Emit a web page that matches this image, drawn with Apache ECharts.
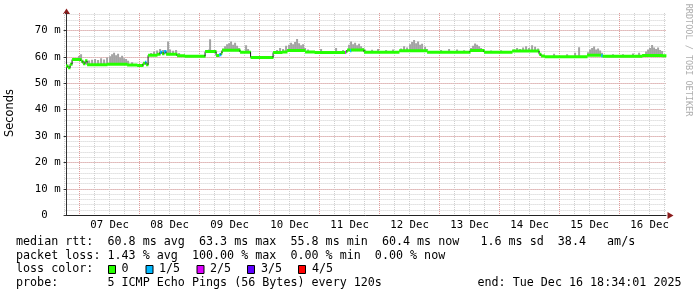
<!DOCTYPE html>
<html><head><meta charset="utf-8">
<script src="https://cdn.jsdelivr.net/npm/echarts@6/dist/echarts.min.js"></script>
<style>html,body{margin:0;padding:0;background:#fff}#c{width:697px;height:297px}</style>
</head><body><div id="c"></div>
<script>
// time unit: hours since 06 Dec 2025 00:00
const startHour = 18.567;
const endHour = 258.567;
const dayLabels = ['07 Dec','08 Dec','09 Dec','10 Dec','11 Dec','12 Dec','13 Dec','14 Dec','15 Dec','16 Dec'];

// median rtt (ms), step segments starting at medHours
const medHours = [18.57,19.4,20.2,21.0,24.6,25.4,26.2,27.0,35.0,43.0,47.0,49.4,50.2,50.6,51.4,55.0,56.2,57.0,57.8,58.6,63.0,66.0,74.2,78.6,79.8,80.6,81.0,88.2,92.4,101.4,105.0,107.0,114.2,118.0,130.2,130.6,131.0,132.2,132.6,137.8,151.8,163.0,180.2,185.8,197.0,207.8,208.6,210.0,227.0,232.6,233.2,249.0,257.0];
const medValues = [56.6,55.9,57.2,59.0,58.4,57.4,58.5,57.0,57.2,56.9,56.7,57.6,58.0,57.0,60.6,61.0,61.8,61.2,62.0,61.0,60.4,60.2,62.0,60.5,60.8,61.5,62.5,61.8,59.8,61.7,61.9,62.4,61.9,61.7,61.8,62.0,62.6,62.3,62.6,61.8,62.3,61.8,62.4,61.8,62.2,61.0,60.3,60.1,60.6,60.4,60.2,60.5,60.4];
const medLoss = [0,0,0,0,0,0,0,0,0,0,0,0,1,0,0,0,1,0,1,0,0,0,0,0,1,0,0,0,0,0,0,0,0,0,2,0,0,1,0,0,0,0,0,0,0,0,0,0,0,1,0,0,0];

// smoke: highest ping (ms) per sampled slot
const smokeHours = [22.2,23.4,24.2,27.4,28.6,29.8,31.0,32.2,33.4,34.6,35.8,36.6,37.4,38.2,39.0,39.8,40.6,41.4,42.2,43.0,44.6,
 52.2,53.4,54.6,55.8,57.0,58.2,59.0,59.8,61.0,62.2,63.4,
 75.4,75.8,
 81.0,81.8,82.6,83.4,84.2,85.0,85.8,86.6,87.4,90.2,91.0,
 102.6,103.8,105.0,106.2,107.4,108.2,109.0,109.8,110.6,111.4,112.2,113.0,113.8,115.0,
 120.2,126.2,129.0,
 131.4,132.2,133.0,133.8,134.6,135.4,136.2,137.0,137.8,
 140.6,143.0,146.2,149.0,
 152.2,153.4,154.6,155.8,156.6,157.4,158.2,159.0,159.8,160.6,161.8,162.6,
 168.2,171.4,174.6,177.4,
 180.2,181.0,181.8,182.6,183.4,184.2,185.0,188.2,192.2,
 197.4,198.6,199.8,201.0,202.2,203.4,204.6,205.8,207.0,
 213.4,218.6,221.8,223.4,
 227.0,227.8,228.6,229.4,230.2,231.0,231.8,232.6,
 236.97,240.97,244.97,247.4,
 250.2,251.0,251.8,252.6,253.4,254.2,255.0,255.8,256.6];
const smokeTops = [59.6,60.3,61.0,58.6,58.9,59.2,58.8,59.5,59.0,59.8,60.2,61.0,61.6,60.6,61.2,59.8,60.4,59.5,59.2,58.5,58.0,
 61.5,62.0,62.4,63.0,62.6,62.2,65.8,62.8,62.3,62.6,61.5,
 62.8,66.7,
 63.2,64.0,64.8,65.2,65.8,64.6,65.4,64.2,63.4,64.4,63.0,
 62.6,63.4,63.0,64.2,64.6,65.4,64.8,65.6,66.8,65.2,64.4,64.8,63.4,62.8,
 63.0,63.4,62.6,
 64.6,65.8,64.8,65.4,64.4,65.0,64.0,63.4,62.8,
 62.7,63.0,62.6,62.8,
 63.2,64.0,63.6,64.8,65.6,66.4,65.2,65.8,64.6,65.0,63.8,63.0,
 62.6,63.0,62.8,62.5,
 63.4,64.2,65.1,64.6,64.0,63.4,62.6,62.4,62.5,
 62.8,63.4,63.0,63.6,64.0,63.4,64.4,63.8,63.2,
 61.2,61.0,61.6,63.7,
 61.8,62.8,63.4,63.9,62.8,63.2,62.4,61.6,
 61.0,61.0,61.3,61.6,
 62.0,62.8,63.4,64.5,63.6,63.0,63.6,62.6,62.2];

const lossLabels = ['0','1/5','2/5','3/5','4/5'];
const lossColors = ['#26ff00','#00b8ff','#dd00ff','#5e00ff','#ff0000'];
const statLines = [
  'median rtt:  60.8 ms avg  63.3 ms max  55.8 ms min  60.4 ms now   1.6 ms sd  38.4   am/s',
  'packet loss: 1.43 % avg  100.00 % max  0.00 % min  0.00 % now',
  'loss color:',
  'probe:       5 ICMP Echo Pings (56 Bytes) every 120s'
];
const endText = 'end: Tue Dec 16 18:34:01 2025';

function medianAt(t){
  let v = medValues[0];
  for (let i=0;i<medHours.length;i++){ if (medHours[i] <= t) v = medValues[i]; else break; }
  return v;
}

const medData = medHours.map((t,i)=>[t, medValues[i], medLoss[i],
  i+1<medHours.length ? medHours[i+1] : endHour,
  i+1<medHours.length ? medValues[i+1] : medValues[i]]);
const smokeData = smokeHours.map((t,i)=>[t, smokeTops[i], medianAt(t)]);

const MONO = '"DejaVu Sans Mono", monospace';
const minorC = '#cfcfcf', majorC = '#e09a9a';

const chart = echarts.init(document.getElementById('c'), null, {renderer:'canvas'});

const graphics = [];
const lineY = [242, 255.5, 269.3, 283];
statLines.forEach((s,i)=>{
  graphics.push({type:'text', style:{text:s, x:16, y:lineY[i], font:'11.7px '+MONO, fill:'#000', textVerticalAlign:'middle', verticalAlign:'middle'}});
});
graphics.push({type:'text', style:{text:endText, x:477.5, y:lineY[3], font:'11.7px '+MONO, fill:'#000', textVerticalAlign:'middle', verticalAlign:'middle'}});
const boxX = [108.5, 146, 197, 247.5, 298.5];
const lblX = [121.5, 159, 210, 261, 312];
lossLabels.forEach((l,i)=>{
  graphics.push({type:'rect', shape:{x:boxX[i], y:265.5, width:7, height:8}, style:{fill:lossColors[i], stroke:'#000', lineWidth:1}});
  graphics.push({type:'text', style:{text:l, x:lblX[i], y:lineY[2], font:'11.7px '+MONO, fill:'#000', textVerticalAlign:'middle', verticalAlign:'middle'}});
});
graphics.push({type:'text', rotation:Math.PI/2, x:10, y:113, style:{text:'Seconds', x:0, y:0, font:'11.4px "DejaVu Sans", sans-serif', fill:'#000', textAlign:'center', align:'center', textVerticalAlign:'middle', verticalAlign:'middle'}});
graphics.push({type:'text', rotation:-Math.PI/2, x:688.5, y:60, style:{text:'RRDTOOL / TOBI OETIKER', x:0, y:0, font:'8.5px '+MONO, fill:'#adadad', textAlign:'center', align:'center', textVerticalAlign:'middle', verticalAlign:'middle'}});
// axis arrows
graphics.push({type:'polygon', shape:{points:[[66.5,8.5],[63,14],[70,14]]}, style:{fill:'#8b1c1c'}});
graphics.push({type:'polygon', shape:{points:[[673.5,215.5],[667.5,212],[667.5,219]]}, style:{fill:'#8b1c1c'}});

chart.setOption({
  animation:false,
  backgroundColor:'#fff',
  grid:{left:64.58, right:31, top:13, bottom:81.7, containLabel:false},
  xAxis:{type:'value', min:18, max:endHour, interval:6,
    axisLine:{show:true, lineStyle:{color:'#222', width:1}},
    axisTick:{show:false},
    splitLine:{show:true, showMaxLine:false, lineStyle:{type:'dotted', width:1, color:[minorC, majorC, minorC, minorC]}},
    axisLabel:{show:true, margin:4, color:'#000', fontFamily:MONO, fontSize:10.7, showMinLabel:true, showMaxLabel:true,
      formatter:(v)=> (Math.abs(v%24-12)<1e-6) ? dayLabels[Math.floor(v/24)-1] : ''}
  },
  yAxis:[
    {type:'value', min:0, max:76.63, interval:2, position:'left',
      axisLine:{show:false}, axisTick:{show:false}, axisLabel:{show:false},
      splitLine:{show:true, showMaxLine:false, lineStyle:{type:'dotted', width:1, color:minorC}}},
    {type:'value', min:0, max:76.63, interval:10, position:'left', offset:-2,
      axisLine:{show:true, lineStyle:{color:'#333', width:1}},
      axisTick:{show:true, length:3, lineStyle:{color:'#333'}},
      splitLine:{show:true, showMaxLine:false, showMinLine:false, lineStyle:{type:'dotted', width:1, color:majorC}},
      axisLabel:{show:true, margin:6, color:'#000', fontFamily:MONO, fontSize:10.7, showMaxLabel:false,
        formatter:(v)=> v===0 ? '0  ' : (v+' m')}}
  ],
  series:[
    {type:'custom', name:'smoke', yAxisIndex:0, data:smokeData, encode:{x:0,y:1}, clip:true,
      renderItem:(params, api)=>{
        const t=api.value(0), top=api.value(1), base=api.value(2);
        const a=api.coord([t, top]), b=api.coord([t+0.8, base]);
        return {type:'rect', shape:{x:a[0], y:a[1], width:b[0]-a[0], height:b[1]-a[1]}, style:{fill:'#a3a3a3'}};
      }},
    {type:'custom', name:'median', yAxisIndex:0, data:medData, encode:{x:0,y:1}, clip:true,
      renderItem:(params, api)=>{
        const t0=api.value(0), v=api.value(1), loss=api.value(2), t1=api.value(3), vn=api.value(4);
        const p0=api.coord([t0,v]), p1=api.coord([t1,v]), pn=api.coord([t1,vn]);
        const children=[{type:'rect', shape:{x:p0[0], y:p0[1]-1.5, width:p1[0]-p0[0]+0.4, height:3}, style:{fill:lossColors[loss]}}];
        if (Math.abs(vn-v) > 0.5) children.push({type:'line', shape:{x1:p1[0], y1:p0[1], x2:p1[0], y2:pn[1]}, style:{stroke:'#1a1a1a', lineWidth:1}});
        return {type:'group', children};
      }}
  ],
  graphic:graphics
});
</script></body></html>
